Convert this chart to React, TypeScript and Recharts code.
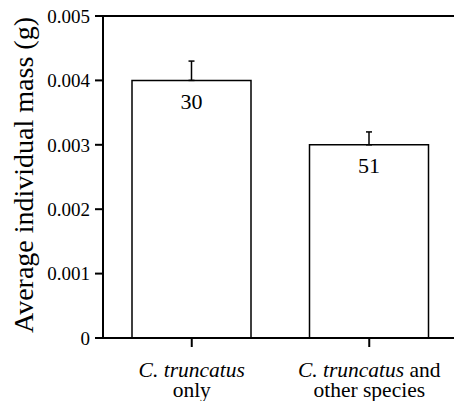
import React from 'react';
import { BarChart, Bar, XAxis, YAxis, ErrorBar, LabelList, ReferenceLine } from 'recharts';

const categories = ['C. truncatus only', 'C. truncatus and other species'];
const labelItalic = ['C. truncatus', 'C. truncatus'];
const labelRoman = ['', ' and'];
const labelSecond = ['only', 'other species'];
const means = [0.004, 0.003];
const errUpper = [0.0003, 0.0002];
const sampleSizes = [30, 51];
const yTicks = [0, 0.001, 0.002, 0.003, 0.004, 0.005];

const data = categories.map((c, i) => ({
  name: c,
  mean: means[i],
  err: [0, errUpper[i]],
  n: sampleSizes[i],
}));

const FONT = '"Liberation Serif", "Times New Roman", serif';

const XTick = (props: any) => {
  const { x, y, payload } = props;
  const i = payload.index;
  return (
    <g>
      <text x={x} y={y + 27.5} textAnchor="middle" fontFamily={FONT} fontSize={21.5} fill="#000">
        <tspan fontStyle="italic">{labelItalic[i]}</tspan>
        {labelRoman[i] ? <tspan>{labelRoman[i]}</tspan> : null}
      </text>
      <text x={x} y={y + 48} textAnchor="middle" fontFamily={FONT} fontSize={21.5} fill="#000">
        {labelSecond[i]}
      </text>
    </g>
  );
};

const YTitle = (props: any) => {
  const { viewBox } = props;
  const cy = viewBox.y + viewBox.height / 2 - 2;
  const cx = 33;
  return (
    <text
      x={cx}
      y={cy}
      transform={`rotate(-90, ${cx}, ${cy})`}
      textAnchor="middle"
      fontFamily={FONT}
      fontSize={28}
      fill="#000"
    >
      Average individual mass (g)
    </text>
  );
};

export default function App() {
  return (
    <div style={{ position: 'absolute', left: 0, top: 0, width: 454, height: 401, overflow: 'hidden', background: '#fff' }}>
      <BarChart
        width={458}
        height={401}
        data={data}
        margin={{ top: 16, right: 0, bottom: 0, left: 0 }}
      >
        <ReferenceLine y={0.005} stroke="#000" strokeWidth={2} />
        <XAxis
          dataKey="name"
          height={63}
          axisLine={{ stroke: '#000', strokeWidth: 2 }}
          tickLine={{ stroke: '#000', strokeWidth: 2 }}
          tickSize={9}
          tick={<XTick />}
          interval={0}
        />
        <YAxis
          width={103}
          domain={[0, 0.005]}
          ticks={yTicks}
          interval={0}
          axisLine={{ stroke: '#000', strokeWidth: 2 }}
          tickLine={{ stroke: '#000', strokeWidth: 2 }}
          tickSize={8}
          tickMargin={5}
          tick={{ fill: '#000', fontSize: 19, fontFamily: FONT }}
          tickFormatter={(v: number) => (v === 0 ? '0' : v.toFixed(3))}
          label={<YTitle />}
        />
        <Bar dataKey="mean" fill="#fff" stroke="#000" strokeWidth={1.5} barSize={119} isAnimationActive={false}>
          <ErrorBar dataKey="err" direction="y" width={3} stroke="#000" strokeWidth={1.5} />
          <LabelList dataKey="n" position="insideTop" offset={13} fill="#000" fontSize={22} fontFamily={FONT} />
        </Bar>
      </BarChart>
    </div>
  );
}
